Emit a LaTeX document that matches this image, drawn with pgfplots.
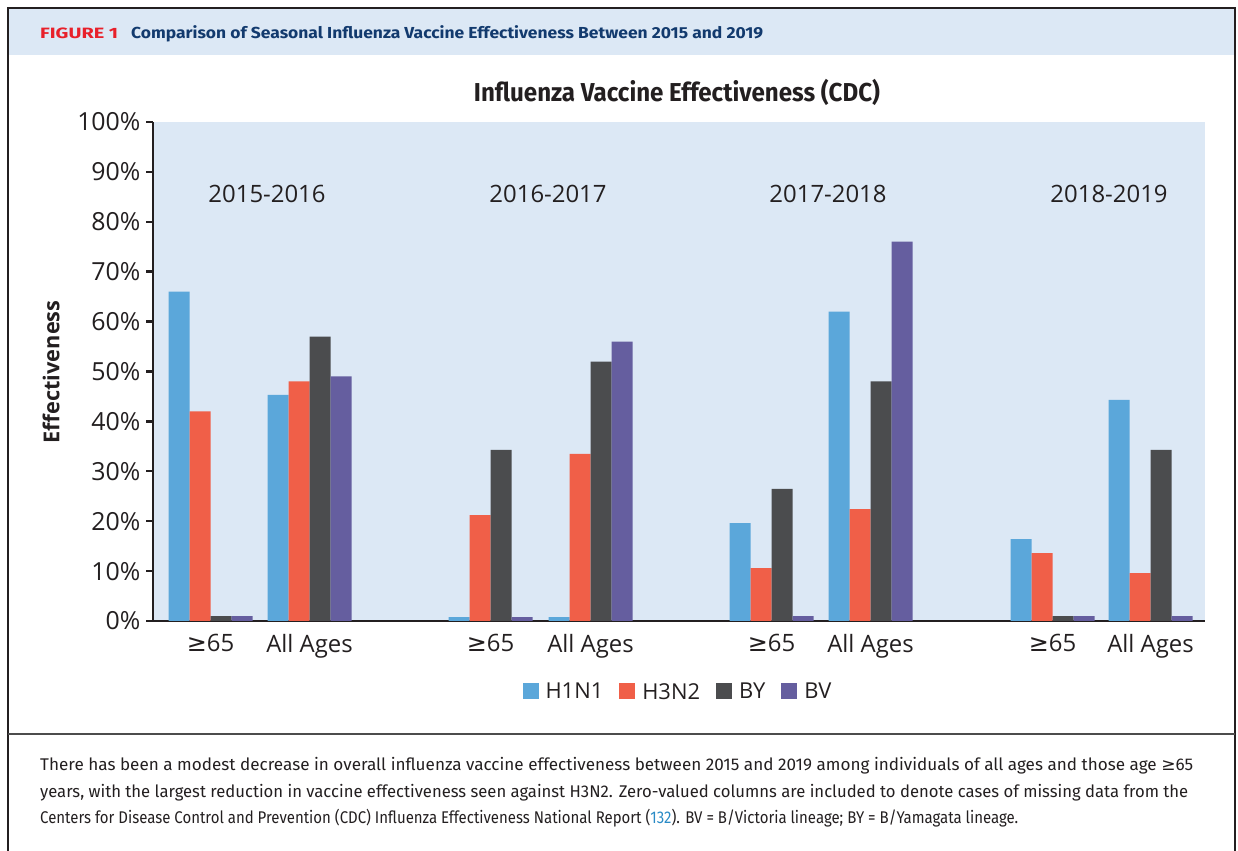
\documentclass[border=0pt]{standalone}
\usepackage{fontspec}
\usepackage{graphicx}
\usepackage{pgfplots}
\pgfplotsset{compat=1.18}
\setmainfont{Open Sans}
\newfontfamily\fira{Fira Sans}
\newfontfamily\dv{DejaVu Sans}
\definecolor{bgblue}{HTML}{DCE8F5}
\definecolor{cA}{HTML}{5BA7DA}
\definecolor{cB}{HTML}{F05F48}
\definecolor{cC}{HTML}{4B4C4E}
\definecolor{cD}{HTML}{655E9F}
\definecolor{axisdark}{HTML}{231F20}
\definecolor{figred}{HTML}{E8202A}
\definecolor{navy}{HTML}{123A6E}
\definecolor{linkblue}{HTML}{2A8BC6}
\newcommand{\gesym}{{\dv ≥}}
\newcommand{\capfont}{\fira\fontsize{17}{20}\selectfont\color{axisdark}}
\begin{document}
\begin{tikzpicture}[x=1bp,y=1bp]
\useasboundingbox (0,0) rectangle (1238,851);
\fill[bgblue] (8,796) rectangle (1235,843);
\draw[line width=1.8bp, axisdark] (8,-5) -- (8,843) -- (1235,843) -- (1235,-5);
\draw[line width=1.5bp, black!70] (8,117) -- (1235,117);
\node[anchor=base west, inner sep=0pt] at (40,812) {\resizebox{78bp}{\height}{\fira\bfseries\fontsize{15}{18}\selectfont\color{figred}FIGURE 1}};
\node[anchor=base west, inner sep=0pt] at (131,812) {\resizebox{632bp}{\height}{\fira\bfseries\fontsize{16}{19}\selectfont\color{navy}Comparison of Seasonal Influenza Vaccine Effectiveness Between 2015 and 2019}};
\node[anchor=base, inner sep=0pt] at (677,749) {\resizebox{406bp}{\height}{\fira\bfseries\fontsize{26}{30}\selectfont\color{axisdark}Influenza Vaccine Effectiveness (CDC)}};
\node[anchor=center, inner sep=0pt, rotate=90] at (51,479) {\resizebox{143bp}{\height}{\bfseries\fontsize{22}{26}\selectfont\color{axisdark}Effectiveness}};
\begin{axis}[
  at={(153bp,230bp)}, anchor=south west, scale only axis,
  width=1052bp, height=499bp,
  xmin=153, xmax=1205, ymin=0, ymax=100,
  axis background/.style={fill=bgblue},
  axis lines*=left,
  axis line style={line width=2.6bp, draw=axisdark},
  ybar, bar width=21,
  /pgf/number format/assume math mode=true,
  ytick={0,10,...,100},
  yticklabel={\pgfmathprintnumber{\tick}\%},
  yticklabel style={font=\fontsize{25}{29}\selectfont, text=axisdark, xshift=-2bp},
  tick align=outside, major tick length=7bp,
  ytick style={line width=2.4bp, draw=axisdark},
  xtick style={draw=none},
  xtick={210.5,309.5,490.5,590.5,771.5,870.5,1052.5,1150.5},
  xticklabels={\gesym65,All Ages,\gesym65,All Ages,\gesym65,All Ages,\gesym65,All Ages},
  xticklabel style={font=\fontsize{24}{28}\selectfont, text=axisdark, yshift=-3bp},
  legend style={at={(0.499,-0.142)}, anchor=center, draw=none, fill=none,
    legend columns=4, font=\fontsize{22}{26}\selectfont, text=axisdark,
    /tikz/every odd column/.append style={column sep=5bp},
    /tikz/every even column/.append style={column sep=14bp}},
  legend image code/.code={\fill[#1] (0bp,-7.5bp) rectangle (16bp,8.5bp);},
  clip=false,
]
\addplot[fill=cA, draw=none, bar shift=-31.5, forget plot] coordinates {
 (210.5,66) (309.5,45.3) (490.5,0.8) (590.5,0.8) (771.5,19.6) (870.5,62) (1052.5,16.4) (1150.5,44.3)};
\addplot[fill=cB, draw=none, bar shift=-10.5, forget plot] coordinates {
 (210.5,42) (309.5,48) (490.5,21.2) (590.5,33.5) (771.5,10.6) (870.5,22.4) (1052.5,13.6) (1150.5,9.6)};
\addplot[fill=cC, draw=none, bar shift=10.5, forget plot] coordinates {
 (210.5,1) (309.5,57) (490.5,34.3) (590.5,52) (771.5,26.5) (870.5,48) (1052.5,1) (1150.5,34.3)};
\addplot[fill=cD, draw=none, bar shift=31.5, forget plot] coordinates {
 (210.5,1) (309.5,49) (490.5,0.8) (590.5,56) (771.5,1) (870.5,76) (1052.5,1) (1150.5,1)};
\addlegendimage{fill=cA, draw=none}
\addlegendentry{H1N1}
\addlegendimage{fill=cB, draw=none}
\addlegendentry{H3N2}
\addlegendimage{fill=cC, draw=none}
\addlegendentry{BY}
\addlegendimage{fill=cD, draw=none}
\addlegendentry{BV}
\node[font=\fontsize{24}{28}\selectfont, text=axisdark] at (axis cs:267,85.6) {2015-2016};
\node[font=\fontsize{24}{28}\selectfont, text=axisdark] at (axis cs:548,85.6) {2016-2017};
\node[font=\fontsize{24}{28}\selectfont, text=axisdark] at (axis cs:828,85.6) {2017-2018};
\node[font=\fontsize{24}{28}\selectfont, text=axisdark] at (axis cs:1109,85.6) {2018-2019};
\end{axis}
\node[anchor=base west, inner sep=0pt] at (40,80) {\resizebox{1153bp}{\height}{\capfont There has been a modest decrease in overall influenza vaccine effectiveness between 2015 and 2019 among individuals of all ages and those age \gesym65}};
\node[anchor=base west, inner sep=0pt] at (40,53) {\resizebox{1148bp}{\height}{\capfont years, with the largest reduction in vaccine effectiveness seen against H3N2. Zero-valued columns are included to denote cases of missing data from the}};
\node[anchor=base west, inner sep=0pt] at (40,27) {\resizebox{978bp}{\height}{\capfont Centers for Disease Control and Prevention (CDC) Influenza Effectiveness National Report ({\color{linkblue}132}). BV = B/Victoria lineage; BY = B/Yamagata lineage.}};
\end{tikzpicture}
\end{document}
